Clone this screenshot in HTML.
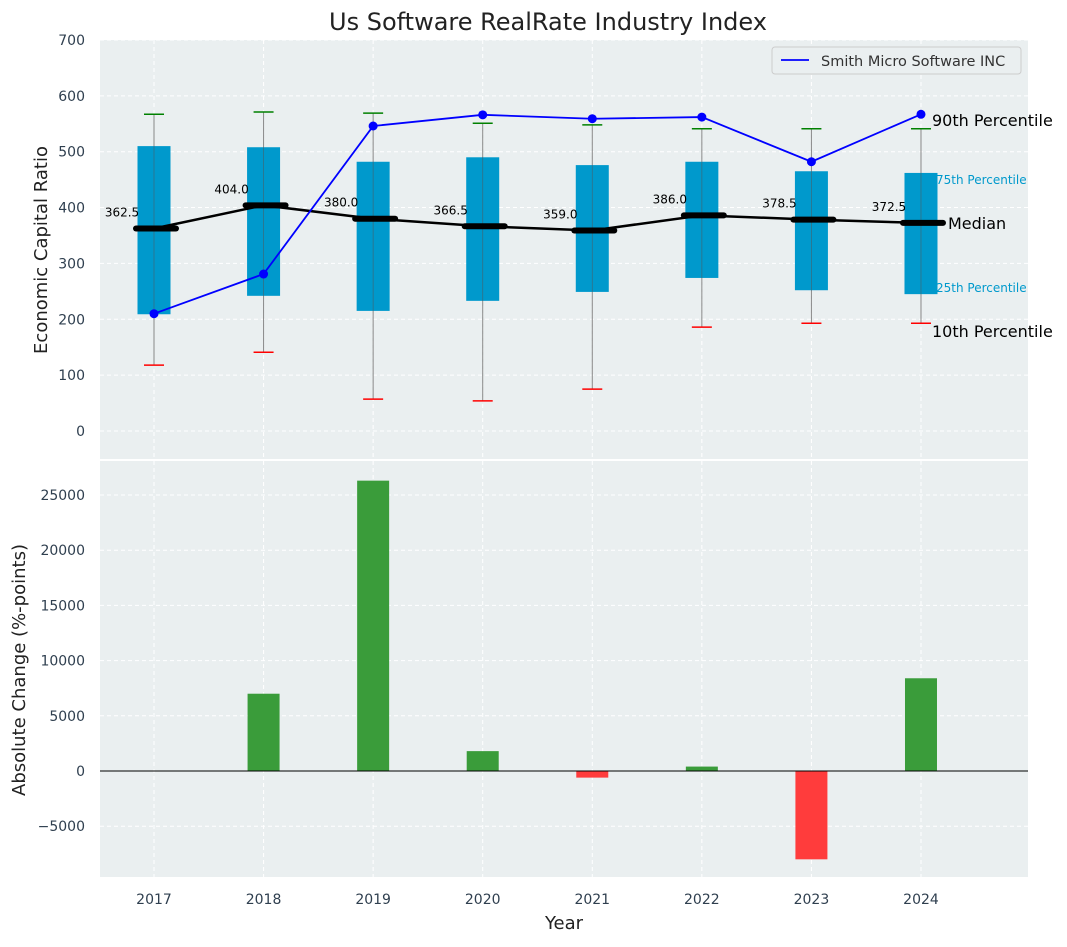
<!DOCTYPE html>
<html><head><meta charset="utf-8"><style>
body{margin:0;background:#fff;font-family:"Liberation Sans","DejaVu Sans",sans-serif;}
svg text{font-family:"DejaVu Sans","Liberation Sans",sans-serif;}
</style></head><body>
<svg id="c" width="1067" height="942" xmlns="http://www.w3.org/2000/svg"></svg>
<script>
const years=[2017,2018,2019,2020,2021,2022,2023,2024];
const p10=[118,141,57,54,75,186,193,193];
const p25=[209,242,215,233,249,274,252,245];
const medians=[362.5,404.0,380.0,366.5,359.0,386.0,378.5,372.5];
const p75=[510,508,482,490,476,482,465,462];
const p90=[567,571,569,551,548,541,541,541];
const company=[210,281,546,566,559,562,482,567];
const changes=[0,7000,26300,1800,-600,400,-8000,8400];
const topTicks=[0,100,200,300,400,500,600,700];
const botTicks=[-5000,0,5000,10000,15000,20000,25000];

const NS="http://www.w3.org/2000/svg";
const svg=document.getElementById('c');
function el(t,a,name,parent){const e=document.createElementNS(NS,t);for(const k in a)e.setAttribute(k,a[k]);


(parent||svg).appendChild(e);return e;}
function txt(x,y,s,a,name){const e=el('text',Object.assign({x:x,y:y},a),name);e.textContent=s;return e;}
const L=100,R=1028;
const X=v=>154+(v-2017)*109.57;
const Y1=v=>431-v*0.5586;
const Y2=v=>771-v*0.01104;
el('rect',{x:L,y:40,width:R-L,height:419,fill:'#eaeff0'},'top-plot-area');
el('rect',{x:L,y:461,width:R-L,height:416,fill:'#eaeff0'},'bottom-plot-area');
years.forEach(y=>{el('line',{x1:X(y),x2:X(y),y1:40,y2:459,stroke:'#fff','stroke-dasharray':'4,3'},'top-x-grid');
el('line',{x1:X(y),x2:X(y),y1:461,y2:877,stroke:'#fff','stroke-dasharray':'4,3'},'bottom-x-grid');
txt(X(y),904,y,{'text-anchor':'middle','font-size':14,fill:'#2f3f4f'},'x-tick-label');});
topTicks.forEach(t=>{el('line',{x1:L,x2:R,y1:Y1(t),y2:Y1(t),stroke:'#fff','stroke-dasharray':'4,3'},'top-y-grid');
txt(85,Y1(t)+5,t,{'text-anchor':'end','font-size':14,fill:'#2f3f4f'},'top-y-tick-label');});
botTicks.forEach(t=>{el('line',{x1:L,x2:R,y1:Y2(t),y2:Y2(t),stroke:'#fff','stroke-dasharray':'4,3'},'bottom-y-grid');
txt(85,Y2(t)+5,t<0?'\u2212'+(-t):t,{'text-anchor':'end','font-size':14,fill:'#2f3f4f'},'bottom-y-tick-label');});
years.forEach((y,i)=>{const x=X(y);
el('line',{x1:x,x2:x,y1:Y1(p10[i]),y2:Y1(p90[i]),stroke:'#888','stroke-width':1},'whisker');
el('rect',{x:x-16.5,y:Y1(p75[i]),width:33,height:Y1(p25[i])-Y1(p75[i]),fill:'#0099cc'},'box-'+y);
el('line',{x1:x,x2:x,y1:Y1(p75[i]),y2:Y1(p25[i]),stroke:'#555','stroke-width':0.8,opacity:0.6},'box-inner-line');
el('line',{x1:x-10,x2:x+10,y1:Y1(p90[i]),y2:Y1(p90[i]),stroke:'green','stroke-width':1.5},'p90-cap');
el('line',{x1:x-10,x2:x+10,y1:Y1(p10[i]),y2:Y1(p10[i]),stroke:'red','stroke-width':1.5},'p10-cap');
});
el('polyline',{points:years.map((y,i)=>X(y)+','+Y1(medians[i])).join(' '),fill:'none',stroke:'#000','stroke-width':2.5},'median-line');
years.forEach((y,i)=>{const x=X(y);
el('line',{x1:x-18,x2:x+22,y1:Y1(medians[i]),y2:Y1(medians[i]),stroke:'#000','stroke-width':6,'stroke-linecap':'round'},'median-marker');
txt(x-32,Y1(medians[i])-12,medians[i].toFixed(1),{'text-anchor':'middle','font-size':12,fill:'#000'},'median-value-label');});
el('polyline',{points:years.map((y,i)=>X(y)+','+Y1(company[i])).join(' '),fill:'none',stroke:'blue','stroke-width':1.8},'company-line');
years.forEach((y,i)=>el('circle',{cx:X(y),cy:Y1(company[i]),r:4.5,fill:'blue'},'company-point'));
const xl=X(2024)+11;
txt(xl,Y1(p90[7])-3,'90th Percentile',{'font-size':16,fill:'#000'},'p90-label');
txt(xl+4,Y1(p75[7])+11,'75th Percentile',{'font-size':12,fill:'#0099cc'},'p75-label');
txt(xl+16,Y1(medians[7])+6,'Median',{'font-size':16,fill:'#000'},'median-label');
txt(xl+4,Y1(p25[7])-2,'25th Percentile',{'font-size':12,fill:'#0099cc'},'p25-label');
txt(xl,Y1(p10[7])+14,'10th Percentile',{'font-size':16,fill:'#000'},'p10-label');
el('rect',{x:772,y:47,width:249,height:27,fill:'#eaeff0',stroke:'#ccc',rx:3},'legend');
el('line',{x1:781,x2:809,y1:60,y2:60,stroke:'blue','stroke-width':1.8},'legend-line');
txt(821,66,'Smith Micro Software INC',{'font-size':14.5,fill:'#333'},'legend-entry');
years.forEach((y,i)=>{const v=changes[i];if(v===0)return;const x=X(y);
el('rect',{x:x-16,y:Math.min(Y2(v),Y2(0)),width:32,height:Math.abs(Y2(v)-Y2(0)),fill:v>0?'#3a9c3a':'#ff3c3c'},'bar-'+y);});
el('line',{x1:L,x2:R,y1:Y2(0),y2:Y2(0),stroke:'#000','stroke-width':1},'zero-line');
txt(548,30,'Us Software RealRate Industry Index',{'text-anchor':'middle','font-size':24,fill:'#222'},'chart-title');
txt(47,250,'Economic Capital Ratio',{'text-anchor':'middle','font-size':18,fill:'#222',transform:'rotate(-90 47 250)'},'top-y-axis-title');
txt(25,670,'Absolute Change (%-points)',{'text-anchor':'middle','font-size':18,fill:'#222',transform:'rotate(-90 25 670)'},'bottom-y-axis-title');
txt(564,929,'Year',{'text-anchor':'middle','font-size':18,fill:'#222'},'x-axis-title');
</script>
</body></html>
